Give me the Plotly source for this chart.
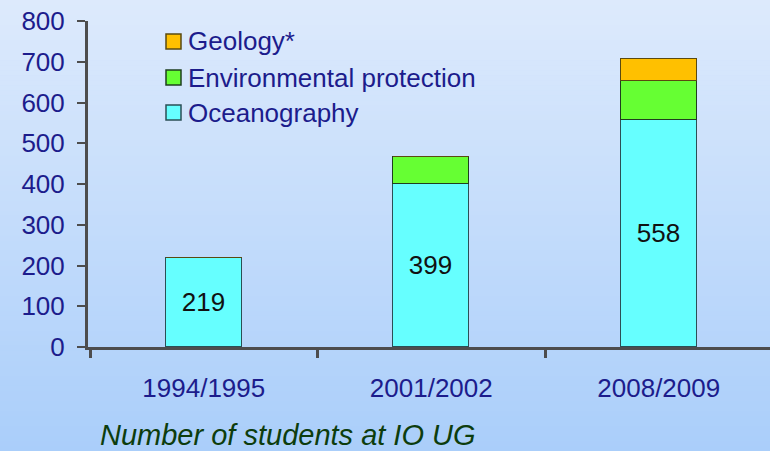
import plotly.graph_objects as go

categories = ["1994/1995", "2001/2002", "2008/2009"]
oceanography = [219, 399, 558]
environmental = [0, 67, 95]
geology = [0, 0, 53]
ocean_labels = ["219", "399", "558"]
y_ticks = [0, 100, 200, 300, 400, 500, 600, 700, 800]
series_names = ["Oceanography", "Environmental protection", "Geology*"]
series_colors = ["#66ffff", "#66ff33", "#ffc000"]
series_edges = ["#2b4f55", "#1f3f1f", "#5a4a10"]

W, H = 770, 451
L, R, T, B = 88, 0, 21, 104
pw = W - L - R
ph = H - T - B

fig = go.Figure()
for name, vals, col, edge in zip(series_names, [oceanography, environmental, geology],
                                 series_colors, series_edges):
    if name == "Oceanography":
        kw = dict(text=ocean_labels, textposition="inside", insidetextanchor="middle",
                  textangle=0, constraintext="none",
                  textfont=dict(family="Liberation Sans, Arial", size=26, color="#111111"))
    else:
        kw = dict(textposition="none")
    fig.add_bar(x=categories, y=vals, name=name, width=0.335,
                marker=dict(color=col, line=dict(color=edge, width=1)), **kw)

# background gradient bands
shapes = []
n = 90
top = (221, 234, 252)
bot = (170, 206, 250)
for i in range(n):
    f = i / (n - 1)
    c = tuple(round(top[k] + (bot[k] - top[k]) * f) for k in range(3))
    y1 = 1 + T / ph - (i / n) * (H / ph)
    y0 = 1 + T / ph - ((i + 1) / n) * (H / ph)
    shapes.append(dict(type="rect", xref="paper", yref="paper",
                       x0=-L / pw, x1=1.01, y0=y0 - 0.002, y1=y1,
                       fillcolor="rgb(%d,%d,%d)" % c, line=dict(width=0),
                       layer="below"))

# manual legend (reversed order: Geology on top)
annotations = []
leg_rows_y = [41.5, 77.5, 112.5]
for (name, col, edge), yc in zip(list(zip(series_names, series_colors, series_edges))[::-1], leg_rows_y):
    shapes.append(dict(type="rect", xref="paper", yref="paper",
                       x0=(166 - L) / pw, x1=(181 - L) / pw,
                       y0=1 - (yc + 7.5 - T) / ph, y1=1 - (yc - 7.5 - T) / ph,
                       fillcolor=col, line=dict(color=edge, width=1.5)))
    annotations.append(dict(text=name, showarrow=False, xref="paper", yref="paper",
                            x=(186 - L) / pw, y=1 - (yc - T) / ph,
                            xanchor="left", yanchor="middle",
                            font=dict(family="Liberation Sans, Arial", size=26, color="#1c1c8c")))

annotations.append(dict(text="<i>Number of students at IO UG</i>", showarrow=False,
                        xref="paper", yref="paper", x=(98 - L) / pw, y=-(435 - (H - B)) / ph,
                        xanchor="left", yanchor="middle",
                        font=dict(family="Liberation Sans, Arial", size=29, color="#0d3d0d")))

fig.update_layout(
    width=W, height=H,
    margin=dict(l=L, r=R, t=T, b=B, pad=0),
    barmode="stack",
    bargap=0,
    paper_bgcolor="rgb(196,220,251)",
    plot_bgcolor="rgba(0,0,0,0)",
    shapes=shapes,
    annotations=annotations,
    font=dict(family="Liberation Sans, Arial", color="#1c1c8c"),
    showlegend=False,
)
fig.update_yaxes(range=[0, 800], tickvals=y_ticks, showgrid=False, zeroline=False,
                 showline=True, linewidth=3, linecolor="#4d4d4d",
                 ticks="outside", ticklen=8, tickwidth=2, tickcolor="#4d4d4d",
                 tickfont=dict(size=26, color="#1c1c8c"), ticklabelstandoff=7)
fig.update_xaxes(type="category", range=[-0.509, 2.489], showgrid=False,
                 showline=True, linewidth=3, linecolor="#4d4d4d",
                 ticks="outside", ticklen=8, tickwidth=3, tickcolor="#4d4d4d",
                 tickson="boundaries",
                 tickfont=dict(size=26, color="#1c1c8c"), ticklabelstandoff=16)

fig.write_html("out.html", config={"displayModeBar": False},
               post_script="document.body.style.margin='0';document.body.style.padding='0';")
